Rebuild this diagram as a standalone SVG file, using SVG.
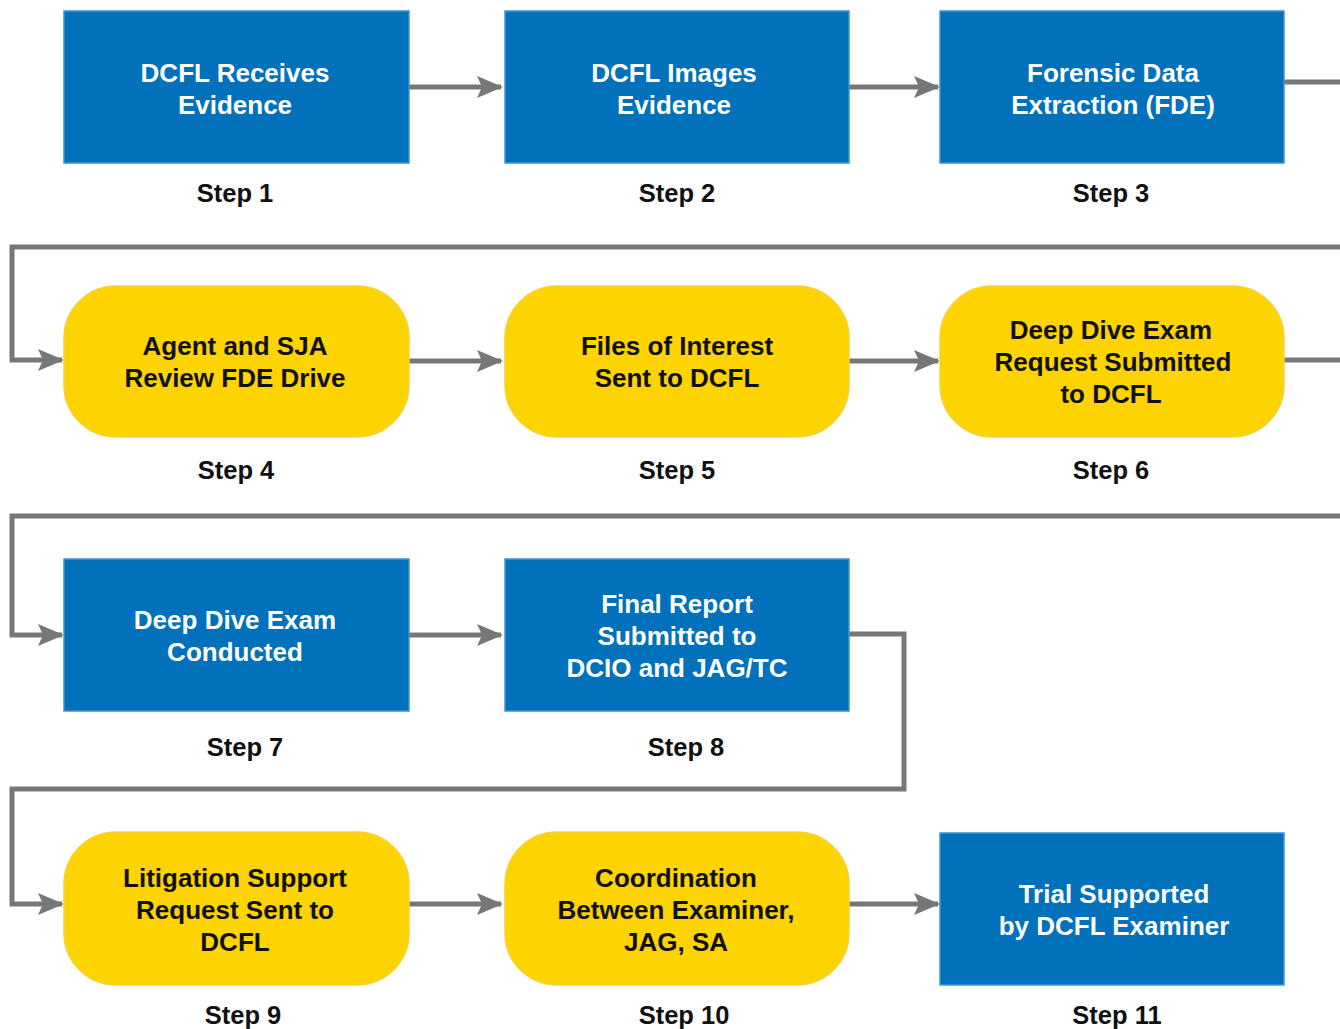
<svg xmlns="http://www.w3.org/2000/svg" width="1340" height="1029" viewBox="0 0 1340 1029">
<defs>
<style>
.blue{fill:#0071BA;stroke:#3F95D0;stroke-width:1.5}
.yel{fill:#FDD300;stroke:#F4D23C;stroke-width:1.5}
.wt{font-family:"Liberation Sans",Arial,sans-serif;font-weight:bold;font-size:26px;fill:#fff;text-anchor:middle}
.bt{font-family:"Liberation Sans",Arial,sans-serif;font-weight:bold;font-size:26px;fill:#111;text-anchor:middle}
.st{font-family:"Liberation Sans",Arial,sans-serif;font-weight:bold;font-size:25.5px;fill:#111;text-anchor:middle}
.cn{fill:none;stroke:#777;stroke-width:5}
</style>
<marker id="ah" viewBox="0 0 26 22" refX="24" refY="11" markerWidth="26" markerHeight="22" markerUnits="userSpaceOnUse" orient="auto">
<path d="M0,0 L26,11 L0,22 L5,11 Z" fill="#777"/>
</marker>
</defs>
<rect width="1340" height="1029" fill="#fff"/>
<g id="connectors">
<path class="cn" d="M409,87 H501" marker-end="url(#ah)"/>
<path class="cn" d="M849,87 H938" marker-end="url(#ah)"/>
<path class="cn" d="M1284,82 H1340"/>
<path class="cn" d="M1340,247 H12 V360 H62" marker-end="url(#ah)"/>
<path class="cn" d="M409,361 H501" marker-end="url(#ah)"/>
<path class="cn" d="M849,361 H938" marker-end="url(#ah)"/>
<path class="cn" d="M1284,360 H1340"/>
<path class="cn" d="M1340,516 H12 V635 H62" marker-end="url(#ah)"/>
<path class="cn" d="M409,635 H501" marker-end="url(#ah)"/>
<path class="cn" d="M849,634 H904 V789 H12 V904 H62" marker-end="url(#ah)"/>
<path class="cn" d="M409,904 H501" marker-end="url(#ah)"/>
<path class="cn" d="M849,904 H938" marker-end="url(#ah)"/>
</g>
<g id="step1">
<rect class="blue" x="64" y="11" width="345" height="152"/>
<text class="wt" x="235" y="82">DCFL Receives</text>
<text class="wt" x="235" y="114">Evidence</text>
<text class="st" x="235" y="202">Step 1</text>
</g>
<g id="step2">
<rect class="blue" x="505" y="11" width="344" height="152"/>
<text class="wt" x="674" y="82">DCFL Images</text>
<text class="wt" x="674" y="114">Evidence</text>
<text class="st" x="677" y="202">Step 2</text>
</g>
<g id="step3">
<rect class="blue" x="940" y="11" width="344" height="152"/>
<text class="wt" x="1113" y="82">Forensic Data</text>
<text class="wt" x="1113" y="114">Extraction (FDE)</text>
<text class="st" x="1111" y="202">Step 3</text>
</g>
<g id="step4">
<rect class="yel" x="64" y="286" width="345" height="151" rx="52"/>
<text class="bt" x="235" y="355">Agent and SJA</text>
<text class="bt" x="235" y="387">Review FDE Drive</text>
<text class="st" x="236" y="479">Step 4</text>
</g>
<g id="step5">
<rect class="yel" x="505" y="286" width="344" height="151" rx="52"/>
<text class="bt" x="677" y="355">Files of Interest</text>
<text class="bt" x="677" y="387">Sent to DCFL</text>
<text class="st" x="677" y="479">Step 5</text>
</g>
<g id="step6">
<rect class="yel" x="940" y="286" width="344" height="151" rx="52"/>
<text class="bt" x="1111" y="339">Deep Dive Exam</text>
<text class="bt" x="1113" y="371">Request Submitted</text>
<text class="bt" x="1111" y="403">to DCFL</text>
<text class="st" x="1111" y="479">Step 6</text>
</g>
<g id="step7">
<rect class="blue" x="64" y="559" width="345" height="152"/>
<text class="wt" x="235" y="629">Deep Dive Exam</text>
<text class="wt" x="235" y="661">Conducted</text>
<text class="st" x="245" y="756">Step 7</text>
</g>
<g id="step8">
<rect class="blue" x="505" y="559" width="344" height="152"/>
<text class="wt" x="677" y="613">Final Report</text>
<text class="wt" x="677" y="645">Submitted to</text>
<text class="wt" x="677" y="677">DCIO and JAG/TC</text>
<text class="st" x="686" y="756">Step 8</text>
</g>
<g id="step9">
<rect class="yel" x="64" y="832" width="345" height="153" rx="52"/>
<text class="bt" x="235" y="887">Litigation Support</text>
<text class="bt" x="235" y="919">Request Sent to</text>
<text class="bt" x="235" y="951">DCFL</text>
<text class="st" x="243" y="1024">Step 9</text>
</g>
<g id="step10">
<rect class="yel" x="505" y="832" width="344" height="153" rx="52"/>
<text class="bt" x="676" y="887">Coordination</text>
<text class="bt" x="676" y="919">Between Examiner,</text>
<text class="bt" x="676" y="951">JAG, SA</text>
<text class="st" x="684" y="1024">Step 10</text>
</g>
<g id="step11">
<rect class="blue" x="940" y="833" width="344" height="152"/>
<text class="wt" x="1114" y="903">Trial Supported</text>
<text class="wt" x="1114" y="935">by DCFL Examiner</text>
<text class="st" x="1117" y="1024">Step 11</text>
</g>
</svg>
